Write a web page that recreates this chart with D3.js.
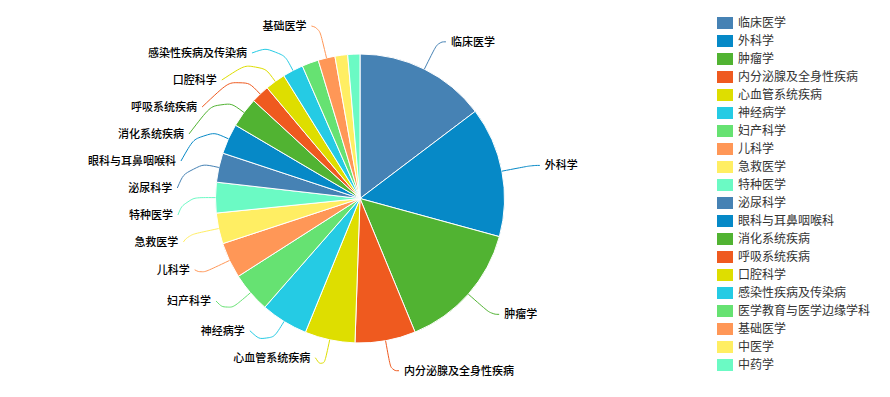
<!DOCTYPE html>
<html>
<head>
<meta charset="utf-8">
<script src="https://cdn.jsdelivr.net/npm/d3@7/dist/d3.min.js"></script>
<style>
  html, body { margin: 0; padding: 0; background: #fff; }
  svg { display: block; }
  text { font-family: "Noto Sans CJK SC", "Microsoft YaHei", sans-serif; }
</style>
</head>
<body>
<svg id="chart" width="890" height="397"></svg>
<script>
// Disciplines, in drawing order (clockwise from 12 o'clock)
const categories = [
  "临床医学", "外科学", "肿瘤学", "内分泌腺及全身性疾病", "心血管系统疾病",
  "神经病学", "妇产科学", "儿科学", "急救医学", "特种医学",
  "泌尿科学", "眼科与耳鼻咽喉科", "消化系统疾病", "呼吸系统疾病", "口腔科学",
  "感染性疾病及传染病", "医学教育与医学边缘学科", "基础医学", "中医学", "中药学"
];
const values = [
  529, 524, 523, 244, 202,
  190, 162, 144, 124, 123,
  118, 122, 121, 74, 82,
  83, 67, 68, 51, 49
];
// Ten-colour cycle shared by slices, label lines and legend swatches
const palette = [
  "#4682b4", "#0689c7", "#51b332", "#ef5a1f", "#dede00",
  "#25cbe4", "#66e272", "#ff9757", "#ffee63", "#6bfac4"
];

const W = 890, H = 397;
const cx = 360, cy = 198.5, radius = 144.5;
const len1 = 30.5, len2 = 8, textGap = 5;
const rowH = 27;                       // vertical room reserved per label
const bandTop = 12.5, bandBottom = H - 12.5;
const smooth = 0.5;

const svg = d3.select("#chart");
const color = d3.scaleOrdinal().domain(categories).range(palette);

const data = categories.map((name, i) => ({ name, value: values[i] }));
const pie = d3.pie().value(d => d.value).sort(null);
const arcs = pie(data);
const arc = d3.arc().innerRadius(0).outerRadius(radius);

const g = svg.append("g").attr("transform", `translate(${cx},${cy})`);

g.selectAll("path.slice")
  .data(arcs)
  .join("path")
  .attr("class", "slice")
  .attr("d", arc)
  .attr("fill", d => color(d.data.name))
  .attr("stroke", "#fff")
  .attr("stroke-width", 1);

// ---- outside labels ----
const polar = (a, r) => [Math.sin(a) * r, -Math.cos(a) * r];
const rA = radius + len1;

const items = arcs.map(d => {
  const mid = (d.startAngle + d.endAngle) / 2;
  const p0 = polar(mid, radius);
  const p1 = polar(mid, rA);
  const dir = p1[0] < 0 ? -1 : 1;
  return { d, p0, p1, dir, y0: p1[1] + cy, top: 0, x: p1[0] + dir * len2 };
});

// Keep as many labels per side as fit in the band; the largest slices win
const capacity = Math.floor((bandBottom - bandTop) / rowH);
function pickVisible(list) {
  if (list.length <= capacity) return list;
  const keep = new Set(list.slice().sort((a, b) => b.d.value - a.d.value).slice(0, capacity));
  return list.filter(it => keep.has(it));
}

// Push overlapping labels apart, balance the shift, then squeeze into the band
function shiftLayout(list, minBound, maxBound) {
  const len = list.length;
  list.sort((a, b) => a.y0 - b.y0);
  list.forEach(it => { it.top = it.y0 - rowH / 2; });
  if (len < 2) return false;
  let adjusted = false, lastPos = 0, totalShifts = 0;
  list.forEach(it => {
    const delta = it.top - lastPos;
    if (delta < 0) { it.top -= delta; adjusted = true; }
    totalShifts += Math.max(-delta, 0);
    lastPos = it.top + rowH;
  });
  const shiftList = (delta, start, end) => {
    if (delta !== 0) adjusted = true;
    for (let i = start; i < end; i++) list[i].top += delta;
  };
  if (totalShifts > 0) shiftList(-totalShifts / len, 0, len);

  const first = list[0], last = list[len - 1];
  let minGap, maxGap;
  const update = () => {
    minGap = first.top - minBound;
    maxGap = maxBound - last.top - rowH;
  };
  const squeezeGaps = (delta, maxPct) => {
    const gaps = [];
    let total = 0;
    for (let i = 1; i < len; i++) {
      const gap = Math.max(list[i].top - list[i - 1].top - rowH, 0);
      gaps.push(gap); total += gap;
    }
    if (!total) return;
    const pct = Math.min(Math.abs(delta) / total, maxPct);
    if (delta > 0) {
      for (let i = 0; i < len - 1; i++) shiftList(gaps[i] * pct, 0, i + 1);
    } else {
      for (let i = len - 1; i > 0; i--) shiftList(-gaps[i - 1] * pct, i, len);
    }
  };
  const takeBoundsGap = (gapThis, gapOther, moveDir) => {
    if (gapThis < 0) {
      const move = Math.min(gapOther, -gapThis);
      if (move > 0) {
        shiftList(move * moveDir, 0, len);
        const remained = move + gapThis;
        if (remained < 0) squeezeGaps(-remained * moveDir, 1);
      } else {
        squeezeGaps(-gapThis * moveDir, 1);
      }
    }
  };
  update();
  if (minGap < 0) squeezeGaps(-minGap, 0.8);
  if (maxGap < 0) squeezeGaps(maxGap, 0.8);
  update();
  takeBoundsGap(minGap, maxGap, 1);
  takeBoundsGap(maxGap, minGap, -1);
  return adjusted;
}

// Re-seat shifted labels along an ellipse so they hug the pie
function recalcX(list) {
  [list.filter(it => it.y < 0), list.filter(it => it.y >= 0)].forEach(semi => {
    if (!semi.length) return;
    let maxY = -1, rB = rA;
    semi.forEach(it => {
      const dy = Math.abs(it.y);
      if (dy >= maxY) {
        const dx = it.p1[0];
        rB = Math.abs(dx) < rA ? Math.sqrt(dy * dy / (1 - dx * dx / (rA * rA))) : rA;
        maxY = dy;
      }
    });
    semi.forEach(it => {
      const dy = Math.abs(it.y);
      const dx = Math.sqrt(Math.max(0, 1 - dy * dy / (rB * rB))) * rA;
      it.x = it.dir * (dx + len2);
    });
  });
}

const shown = [];
[-1, 1].forEach(dir => {
  const side = pickVisible(items.filter(it => it.dir === dir));
  const moved = shiftLayout(side, bandTop, bandBottom);
  side.forEach(it => { it.y = it.top + rowH / 2 - cy; });
  if (moved) recalcX(side);
  shown.push(...side);
});

function linePath(it) {
  const P0 = it.p0, P1 = it.p1, P2 = [it.x, it.y];
  const p = d3.path();
  p.moveTo(P0[0], P0[1]);
  const l1 = Math.hypot(P1[0] - P0[0], P1[1] - P0[1]);
  const l2 = Math.hypot(P2[0] - P1[0], P2[1] - P1[1]);
  if (!l1 || !l2) { p.lineTo(P1[0], P1[1]); p.lineTo(P2[0], P2[1]); return p.toString(); }
  const m = Math.min(l1, l2) * smooth;
  const m0 = [P1[0] + (P0[0] - P1[0]) * m / l1, P1[1] + (P0[1] - P1[1]) * m / l1];
  const m2 = [P1[0] + (P2[0] - P1[0]) * m / l2, P1[1] + (P2[1] - P1[1]) * m / l2];
  const m1 = [(m0[0] + m2[0]) / 2, (m0[1] + m2[1]) / 2];
  p.bezierCurveTo(m0[0], m0[1], m0[0], m0[1], m1[0], m1[1]);
  p.bezierCurveTo(m2[0], m2[1], m2[0], m2[1], P2[0], P2[1]);
  return p.toString();
}

g.selectAll("path.guide")
  .data(shown)
  .join("path")
  .attr("class", "guide")
  .attr("d", linePath)
  .attr("fill", "none")
  .attr("stroke", it => color(it.d.data.name))
  .attr("stroke-width", 1);

g.selectAll("text.label")
  .data(shown)
  .join("text")
  .attr("class", "label")
  .attr("x", it => it.x + it.dir * textGap)
  .attr("y", it => it.y)
  .attr("dy", "0.35em")
  .attr("text-anchor", it => it.dir < 0 ? "end" : "start")
  .attr("font-size", 11)
  .attr("font-weight", 500)
  .attr("fill", "#000")
  .text(it => it.d.data.name);

// ---- legend ----
const legendX = 717, legendY = 23, legendStep = 18;
const legendScale = d3.scalePoint().domain(categories)
  .range([legendY, legendY + legendStep * (categories.length - 1)]);

const legend = svg.append("g").attr("class", "legend");
const rows = legend.selectAll("g.row")
  .data(categories)
  .join("g")
  .attr("class", "row")
  .attr("transform", d => `translate(${legendX},${legendScale(d)})`);

rows.append("rect")
  .attr("x", 0).attr("y", -6)
  .attr("width", 16).attr("height", 12)
  .attr("fill", d => color(d));

rows.append("text")
  .attr("x", 21).attr("y", 0).attr("dy", "0.35em")
  .attr("font-size", 12)
  .attr("fill", "#333")
  .text(d => d);
</script>
</body>
</html>
